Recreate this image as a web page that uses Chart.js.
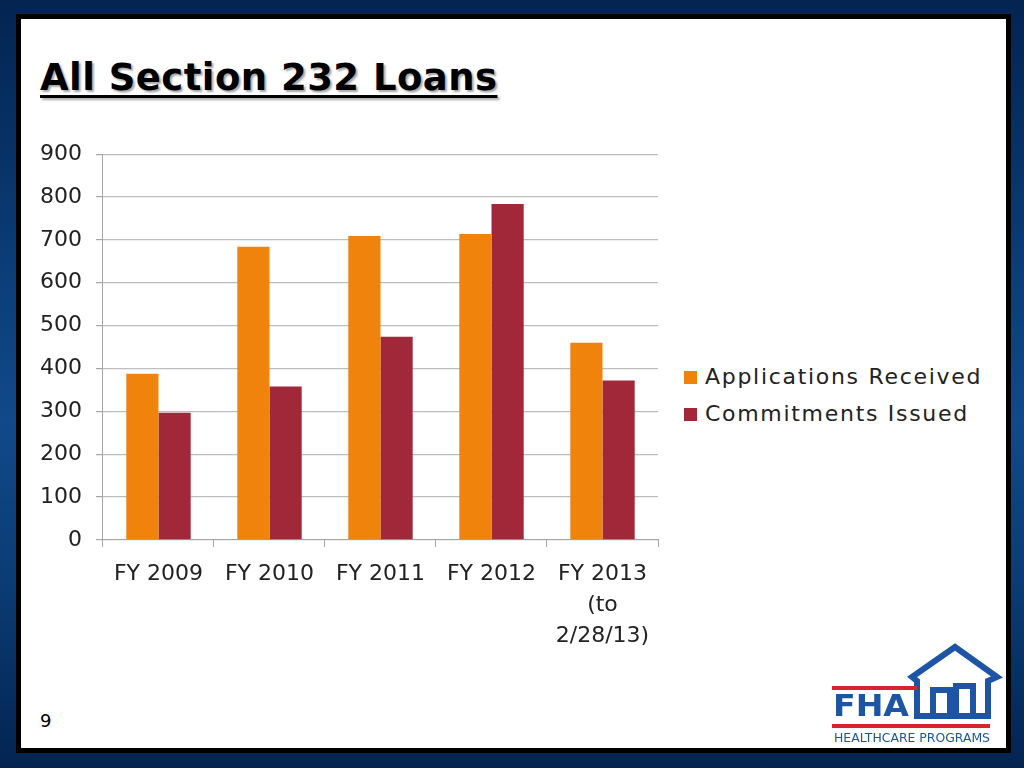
<!DOCTYPE html>
<html>
<head>
<meta charset="utf-8">
<script src="https://cdn.jsdelivr.net/npm/chart.js@4"></script>
<style>
  html, body { margin: 0; padding: 0; }
  body {
    width: 1024px; height: 768px; overflow: hidden; position: relative;
    background: linear-gradient(180deg, #032451 0%, #0b3d78 35%, #11498a 55%, #0a3a72 78%, #032451 100%);
    font-family: "DejaVu Sans", sans-serif;
  }
  .slide {
    position: absolute; left: 16px; top: 14px; width: 985px; height: 729px;
    background: #fff; border: 5px solid #000;
  }
  .title {
    position: absolute; left: 40px; top: 56px; margin: 0;
    font: bold 37px "DejaVu Sans", sans-serif; letter-spacing: 0.45px;
    color: #000; text-decoration: underline; text-underline-offset: 5px;
    text-decoration-thickness: 3px;
    text-shadow: 2px 2px 2px rgba(0,0,0,0.35);
  }
  .pagenum { position: absolute; left: 40px; top: 710px; font-size: 18px; color: #000; }
  #wrap { position: absolute; left: 22px; top: 127px; width: 640px; height: 543px; }
  #legend { position: absolute; left: 684px; top: 363px; font-size: 22px; color: #222; letter-spacing: 1.7px; }
  #legend .item { height: 37px; line-height: 28px; white-space: nowrap; }
  #legend .box { display: inline-block; width: 13px; height: 13px; margin-right: 8px; vertical-align: 0px; }
  svg.logo { position: absolute; left: 0; top: 0; }
</style>
</head>
<body>
<div class="slide"></div>
<h1 class="title">All Section 232 Loans</h1>
<div id="wrap"><canvas id="chart"></canvas></div>
<div id="legend"></div>
<div class="pagenum">9</div>
<svg class="logo" width="1024" height="768">
  <polygon points="912,677 955,647 997,677 988,681 988,716 917,716 917,681" fill="#fff" stroke="#1c55a5" stroke-width="6" stroke-linejoin="miter"/>
  <path d="M933,716 V690 H950 V716 M956,716 V686 H973 V716" fill="none" stroke="#1c55a5" stroke-width="6"/>
  <rect x="832" y="686" width="85" height="4" fill="#d7262b"/>
  <text x="833" y="716" font-family="DejaVu Sans" font-weight="bold" font-size="30" fill="#1c55a5" textLength="76" lengthAdjust="spacingAndGlyphs">FHA</text>
  <rect x="832" y="724" width="158" height="4" fill="#d7262b"/>
  <text x="834" y="742" font-family="DejaVu Sans" font-size="12" fill="#1c55a5" textLength="156" lengthAdjust="spacingAndGlyphs">HEALTHCARE PROGRAMS</text>
</svg>
<script>
// data
const categories = ['FY 2009', 'FY 2010', 'FY 2011', 'FY 2012', ['FY 2013', '(to', '2/28/13)']];
const applicationsReceived = [388, 684, 709, 714, 460];
const commitmentsIssued = [297, 358, 474, 784, 372];
const yTicks = [0, 100, 200, 300, 400, 500, 600, 700, 800, 900];

const font = { family: '"DejaVu Sans", sans-serif', size: 22 };

const chart = new Chart(document.getElementById('chart'), {
  type: 'bar',
  data: {
    labels: categories,
    datasets: [
      { label: 'Applications Received', data: applicationsReceived, backgroundColor: '#ef830c' },
      { label: 'Commitments Issued', data: commitmentsIssued, backgroundColor: '#a02838' }
    ]
  },
  options: {
    responsive: true,
    maintainAspectRatio: false,
    animation: false,
    layout: { padding: { left: 4, top: 4, right: 4, bottom: 6 } },
    datasets: { bar: { barPercentage: 1, categoryPercentage: 0.58 } },
    plugins: {
      tooltip: { enabled: false },
      legend: { display: false }
    },
    scales: {
      y: {
        min: 0, max: 900,
        afterBuildTicks: (axis) => { axis.ticks = yTicks.map(v => ({ value: v })); },
        border: { color: '#a6a6a6', width: 1 },
        grid: { color: '#bdbdbd', lineWidth: 1.2, tickLength: 7, tickColor: '#a6a6a6' },
        ticks: { color: '#222', font, padding: 14 }
      },
      x: {
        border: { color: '#a6a6a6', width: 1 },
        grid: { drawOnChartArea: false, tickLength: 7, color: '#a6a6a6', offset: true },
        ticks: { color: '#222', font: { ...font, lineHeight: 1.41 }, padding: 12, maxRotation: 0, autoSkip: false }
      }
    }
  }
});

// legend on the right, built from the chart's datasets
const legend = document.getElementById('legend');
chart.data.datasets.forEach(ds => {
  const item = document.createElement('div');
  item.className = 'item';
  item.innerHTML = `<span class="box" style="background:${ds.backgroundColor}"></span>${ds.label}`;
  legend.appendChild(item);
});
</script>
</body>
</html>
